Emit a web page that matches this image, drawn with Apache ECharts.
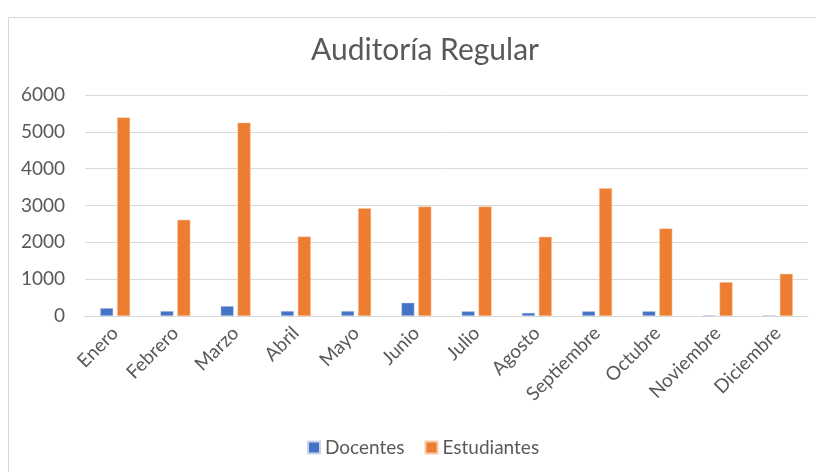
<!DOCTYPE html>
<html>
<head>
<meta charset="utf-8">
<script src="https://cdn.jsdelivr.net/npm/echarts@6/dist/echarts.min.js"></script>
<style>
html,body{margin:0;padding:0;background:#fff;}
#chart{width:816px;height:472px;}
</style>
</head>
<body>
<div id="chart"></div>
<script>
var categories = ['Enero','Febrero','Marzo','Abril','Mayo','Junio','Julio','Agosto','Septiembre','Octubre','Noviembre','Diciembre'];
var docentes = [215, 135, 270, 135, 135, 360, 130, 85, 130, 130, 20, 20];
var estudiantes = [5390, 2610, 5250, 2155, 2925, 2970, 2970, 2150, 3470, 2375, 920, 1145];
var yTicks = [0, 1000, 2000, 3000, 4000, 5000, 6000];
var legendNames = ['Docentes', 'Estudiantes'];
var titleText = 'Auditoría Regular';

var FONT = 'Lato, "Open Sans", sans-serif';
var chart = echarts.init(document.getElementById('chart'), null, {renderer: 'canvas'});
chart.setOption({
  backgroundColor: '#ffffff',
  animation: false,
  title: {
    text: titleText,
    left: 306,
    top: 30,
    textStyle: {fontFamily: FONT, fontSize: 30, fontWeight: 'normal', color: '#595959'}
  },
  legend: {
    data: legendNames,
    bottom: 10,
    left: 302,
    itemWidth: 12,
    itemHeight: 12,
    itemGap: 20,
    icon: 'rect',
    textStyle: {fontFamily: FONT, fontSize: 19, color: '#595959'}
  },
  grid: {left: 85, right: 8, top: 95, bottom: 156, containLabel: false},
  xAxis: {
    type: 'category',
    data: categories,
    axisLine: {lineStyle: {color: '#d9d9d9', width: 1}},
    axisTick: {show: false},
    axisLabel: {rotate: 45, interval: 0, fontFamily: FONT, fontSize: 19, color: '#595959', margin: 14}
  },
  yAxis: {
    type: 'value',
    min: yTicks[0],
    max: yTicks[yTicks.length - 1],
    interval: yTicks[1] - yTicks[0],
    axisLine: {show: false},
    axisTick: {show: false},
    splitLine: {lineStyle: {color: '#d9d9d9', width: 1}},
    axisLabel: {fontFamily: FONT, fontSize: 19, color: '#595959', margin: 20,
      formatter: function (v) { return String(v); }}
  },
  series: [
    {
      name: legendNames[0], type: 'bar', data: docentes,
      barWidth: 13, barGap: '30%',
      itemStyle: {color: '#4472C4', borderColor: '#c9d5ee', borderWidth: 0.5}
    },
    {
      name: legendNames[1], type: 'bar', data: estudiantes,
      barWidth: 13, barGap: '30%',
      itemStyle: {color: '#ED7D31', borderColor: '#f7c9a8', borderWidth: 0.5}
    }
  ],
  graphic: [
    {type: 'line', shape: {x1: 8.5, y1: 17.5, x2: 8.5, y2: 472}, style: {stroke: '#d9d9d9', lineWidth: 1}},
    {type: 'line', shape: {x1: 8.5, y1: 17.5, x2: 816, y2: 17.5}, style: {stroke: '#d9d9d9', lineWidth: 1}}
  ]
});
</script>
</body>
</html>
